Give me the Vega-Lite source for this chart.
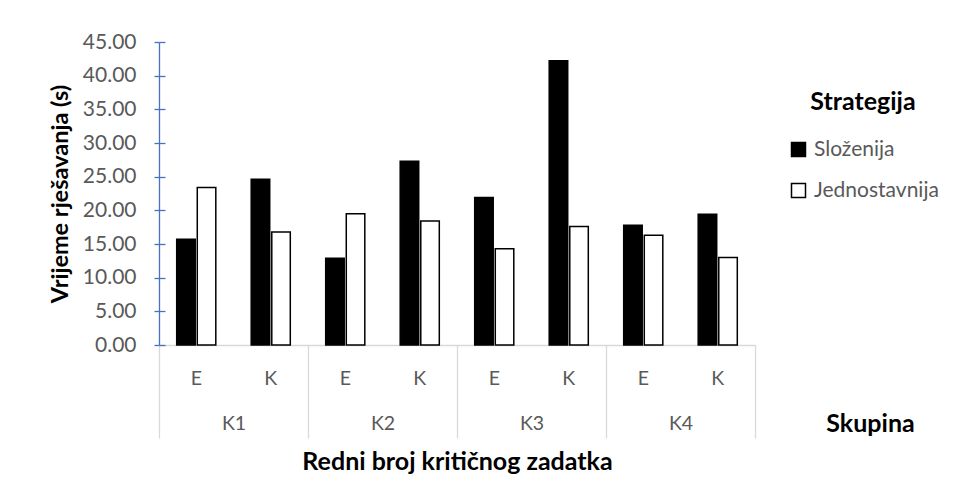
{
  "$schema": "https://vega.github.io/schema/vega-lite/v6.json",
  "autosize": "none",
  "width": 596,
  "height": 303,
  "padding": {"left": 159, "top": 42, "right": 205, "bottom": 156},
  "background": "white",
  "config": {"view": {"stroke": null}, "font": "Lato"},
  "data": {
    "values": [
      {"group": "K1", "key": "K1 E", "strategy": "Složenija", "value": 15.7},
      {"group": "K1", "key": "K1 E", "strategy": "Jednostavnija", "value": 23.4},
      {"group": "K1", "key": "K1 K", "strategy": "Složenija", "value": 24.6},
      {"group": "K1", "key": "K1 K", "strategy": "Jednostavnija", "value": 16.8},
      {"group": "K2", "key": "K2 E", "strategy": "Složenija", "value": 12.9},
      {"group": "K2", "key": "K2 E", "strategy": "Jednostavnija", "value": 19.5},
      {"group": "K2", "key": "K2 K", "strategy": "Složenija", "value": 27.3},
      {"group": "K2", "key": "K2 K", "strategy": "Jednostavnija", "value": 18.4},
      {"group": "K3", "key": "K3 E", "strategy": "Složenija", "value": 21.9},
      {"group": "K3", "key": "K3 E", "strategy": "Jednostavnija", "value": 14.3},
      {"group": "K3", "key": "K3 K", "strategy": "Složenija", "value": 42.2},
      {"group": "K3", "key": "K3 K", "strategy": "Jednostavnija", "value": 17.6},
      {"group": "K4", "key": "K4 E", "strategy": "Složenija", "value": 17.8},
      {"group": "K4", "key": "K4 E", "strategy": "Jednostavnija", "value": 16.3},
      {"group": "K4", "key": "K4 K", "strategy": "Složenija", "value": 19.4},
      {"group": "K4", "key": "K4 K", "strategy": "Jednostavnija", "value": 13.0}
    ]
  },
  "layer": [
    {
      "mark": {"type": "bar", "stroke": "#000000", "strokeWidth": 1.5},
      "encoding": {
        "x": {
          "field": "key", "type": "nominal",
          "scale": {"paddingInner": 0, "paddingOuter": 0},
          "axis": {
            "orient": "bottom",
            "title": "Skupina",
            "labelExpr": "slice(datum.label, -1)",
            "ticks": false,
            "domainColor": "#d9d9d9", "domainWidth": 1.3,
            "labelFontSize": 19.5, "labelColor": "#595959",
            "labelPadding": 33, "labelBaseline": "middle", "labelAngle": 0,
            "titleFontSize": 25, "titleFontWeight": "bold", "titleColor": "#000000",
            "titleX": 711, "titleY": 78, "titleAlign": "center", "titleBaseline": "middle"
          }
        },
        "xOffset": {
          "field": "strategy", "type": "nominal",
          "scale": {"domain": ["Složenija", "Jednostavnija"], "paddingInner": 0.1, "paddingOuter": 0.86}
        },
        "y": {
          "field": "value", "type": "quantitative",
          "scale": {"domain": [0, 45]},
          "axis": {
            "title": "Vrijeme rješavanja (s)",
            "format": ".2f",
            "values": [0, 5, 10, 15, 20, 25, 30, 35, 40, 45],
            "grid": false,
            "domainColor": "#4472C4", "domainWidth": 1.3,
            "tickColor": "#4472C4", "tickWidth": 1.3, "tickSize": 5,
            "labelPadding": 18, "labelFontSize": 21, "labelColor": "#595959",
            "titleFontSize": 23.5, "titleFontWeight": "bold", "titleColor": "#000000",
            "titleX": -99, "titleY": 151.5, "titleAlign": "center", "titleBaseline": "middle", "titleAngle": -90
          }
        },
        "fill": {
          "field": "strategy", "type": "nominal",
          "scale": {"domain": ["Složenija", "Jednostavnija"], "range": ["#000000", "#ffffff"]},
          "legend": {
            "orient": "none", "legendX": 629, "legendY": 48,
            "title": "Strategija",
            "titleFontSize": 25, "titleFontWeight": "bold", "titleColor": "#000000",
            "titleAnchor": "middle", "titlePadding": 24,
            "labelFontSize": 21, "labelColor": "#595959",
            "symbolType": "square", "symbolSize": 196,
            "symbolStrokeColor": "#000000", "symbolStrokeWidth": 1.5,
            "rowPadding": 19, "labelOffset": 5
          }
        }
      }
    },
    {
      "mark": {"type": "bar", "opacity": 0},
      "encoding": {
        "x": {
          "field": "group", "type": "nominal",
          "scale": {"paddingInner": 0, "paddingOuter": 0},
          "axis": {
            "orient": "bottom",
            "title": "Redni broj kritičnog zadatka",
            "domain": false,
            "ticks": true, "tickBand": "extent", "tickSize": 93,
            "tickColor": "#d9d9d9", "tickWidth": 1.3,
            "labelFontSize": 19.5, "labelColor": "#595959",
            "labelPadding": -15, "labelBaseline": "middle", "labelAngle": 0,
            "titleFontSize": 25, "titleFontWeight": "bold", "titleColor": "#000000",
            "titleY": 116, "titleBaseline": "middle"
          }
        },
        "y": {
          "field": "value", "type": "quantitative", "stack": null,
          "scale": {"domain": [0, 45]},
          "axis": {
            "orient": "left", "labels": false, "domain": false, "grid": false, "title": null,
            "values": [0, 5, 10, 15, 20, 25, 30, 35, 40, 45],
            "ticks": true, "tickSize": -6, "tickColor": "#4472C4", "tickWidth": 1.3
          }
        }
      }
    }
  ],
  "resolve": {
    "scale": {"x": "independent", "y": "independent"},
    "axis": {"x": "independent", "y": "independent"}
  }
}
